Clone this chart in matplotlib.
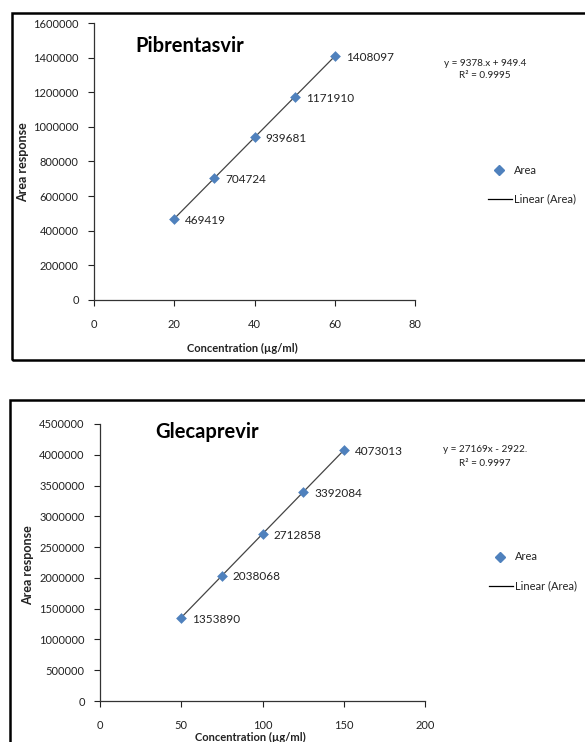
import numpy as np
import matplotlib
matplotlib.use("Agg")
import matplotlib.pyplot as plt
from matplotlib.lines import Line2D
from matplotlib.patches import Rectangle
from matplotlib.ticker import FuncFormatter

plt.rcParams['font.family'] = ['Lato', 'DejaVu Sans']

# Data
pib_conc = [20, 30, 40, 50, 60]
pib_area = [469419, 704724, 939681, 1171910, 1408097]
gle_conc = [50, 75, 100, 125, 150]
gle_area = [1353890, 2038068, 2712858, 3392084, 4073013]

pib_eq = ["y = 9378.x + 949.4", "R² = 0.9995"]
gle_eq = ["y = 27169x - 2922.", "R² = 0.9997"]

W, H = 585, 742
fig = plt.figure(figsize=(W / 100, H / 100), dpi=100)

def fx(px):
    return px / W

def fy(py):
    return 1 - py / H

MARK = '#4F81BD'
TXT = '#222222'

def panel(rect, xs, ys, xlim, xticks, ylim, yticks, title, title_px, eq, eq_px, leg_px, box_px, xlabel_py, ylabel_px):
    x0, y0, y1 = box_px
    fig.patches.append(Rectangle((fx(x0), fy(y1)), 1.2, fy(y0) - fy(y1), transform=fig.transFigure,
                                 fill=False, edgecolor='black', linewidth=1.8, zorder=0))
    ax = fig.add_axes(rect)
    ax.set_xlim(*xlim)
    ax.set_ylim(*ylim)
    ax.set_xticks(xticks)
    ax.set_yticks(yticks)
    ax.yaxis.set_major_formatter(FuncFormatter(lambda v, p: f"{int(round(v))}"))
    ax.xaxis.set_major_formatter(FuncFormatter(lambda v, p: f"{int(round(v))}"))
    ax.spines['top'].set_visible(False)
    ax.spines['right'].set_visible(False)
    for s in ('left', 'bottom'):
        ax.spines[s].set_linewidth(0.9)
        ax.spines[s].set_color('#333333')
    ax.tick_params(axis='both', direction='out', length=4, width=0.8, labelsize=8, colors=TXT)
    ax.tick_params(axis='x', pad=10)
    ax.tick_params(axis='y', pad=7)
    ax.set_facecolor('none')
    m, b = np.polyfit(xs, ys, 1)
    xl = np.array([min(xs), max(xs)])
    ax.plot(xl, m * xl + b, color='#444444', linewidth=0.9, zorder=2)
    ax.scatter(xs, ys, marker='D', s=30, color=MARK, zorder=3, linewidths=0)
    for x, y in zip(xs, ys):
        ax.annotate(f"{y}", (x, y), xytext=(8, -1), textcoords='offset points',
                    va='center', ha='left', fontsize=8.5, color=TXT)
    fig.text(fx(title_px[0]), fy(title_px[1]), title, fontsize=14.5, fontweight='bold', ha='left', va='center')
    fig.text(fx(eq_px[0]), fy(eq_px[1]), eq[0], fontsize=7.2, ha='center', va='center', color=TXT)
    fig.text(fx(eq_px[0]), fy(eq_px[1] + 13), eq[1], fontsize=7.2, ha='center', va='center', color=TXT)
    lx, ly = leg_px
    fig.add_artist(Line2D([fx(lx)], [fy(ly)], marker='D', markersize=5, color=MARK, linestyle='none',
                          transform=fig.transFigure))
    fig.text(fx(lx + 15), fy(ly), "Area", fontsize=8, ha='left', va='center', color=TXT)
    fig.add_artist(Line2D([fx(lx - 11), fx(lx + 13)], [fy(ly + 29), fy(ly + 29)], color='black', linewidth=0.9,
                          transform=fig.transFigure))
    fig.text(fx(lx + 15), fy(ly + 29), "Linear (Area)", fontsize=8, ha='left', va='center', color=TXT)
    fig.text((rect[0] + rect[0] + rect[2]) / 2 - 0.02, fy(xlabel_py), "Concentration (µg/ml)", fontsize=8,
             fontweight='bold', ha='center', va='center', color=TXT)
    fig.text(fx(ylabel_px[0]), fy(ylabel_px[1]), "Area response", fontsize=9, fontweight='bold',
             rotation=90, ha='center', va='center', color=TXT)
    return ax

panel([fx(94), fy(300), fx(415) - fx(94), fy(23) - fy(300)], pib_conc, pib_area,
      (0, 80), [0, 20, 40, 60, 80], (0, 1600000), np.arange(0, 1600001, 200000),
      "Pibrentasvir", (135, 46), pib_eq, (485, 63), (499, 170), (12, 13, 360), 348, (23, 162))

panel([fx(100), fy(701), fx(425) - fx(100), fy(424) - fy(701)], gle_conc, gle_area,
      (0, 200), [0, 50, 100, 150, 200], (0, 4500000), np.arange(0, 4500001, 500000),
      "Glecaprevir", (155, 432), gle_eq, (485, 450), (500, 557), (10, 400, 760), 737, (28, 565))

fig.savefig("out.png", dpi=100)
